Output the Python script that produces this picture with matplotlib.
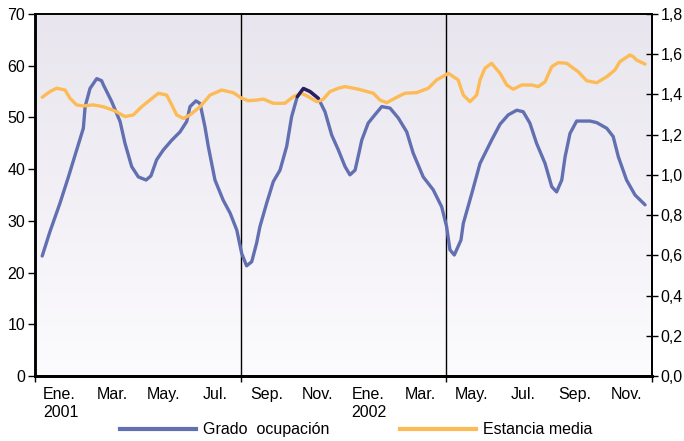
import numpy as np
import matplotlib
matplotlib.use("Agg")
import matplotlib.pyplot as plt
from matplotlib.colors import LinearSegmentedColormap
from matplotlib.lines import Line2D

plt.rcParams['font.family'] = ['Liberation Sans', 'DejaVu Sans']

# ---- data (x in months since start of Jan 2001) ----
ocup_x = [0.28, 0.58, 0.97, 1.30, 1.62, 1.88, 1.95, 2.14, 2.40, 2.59, 2.66, 2.98, 3.31,
          3.50, 3.76, 4.02, 4.32, 4.51, 4.73, 4.99, 5.32, 5.64, 5.90, 6.03, 6.26, 6.42,
          6.61, 6.74, 7.00, 7.32, 7.59, 7.85, 8.04, 8.23, 8.43, 8.62, 8.75, 9.01, 9.27,
          9.53, 9.79, 9.98, 10.20, 10.44, 10.70, 11.02, 11.28, 11.54, 11.80, 12.06, 12.25,
          12.45, 12.60, 12.71, 12.96, 13.22, 13.49, 13.81, 14.13, 14.46, 14.71, 15.10,
          15.49, 15.82, 16.01, 16.14, 16.31, 16.57, 16.66, 16.99, 17.31, 17.76, 18.09,
          18.41, 18.74, 18.99, 19.25, 19.51, 19.84, 20.10, 20.29, 20.49, 20.62, 20.81,
          21.07, 21.59, 21.85, 22.24, 22.49, 22.69, 23.01, 23.34, 23.73]
ocup_y = [23.2, 27.9, 33.4, 38.5, 43.7, 47.9, 52.1, 55.6, 57.5, 57.1, 56.3, 53.1, 49.2,
          45.0, 40.5, 38.5, 37.9, 38.7, 41.8, 43.7, 45.6, 47.2, 49.2, 52.1, 53.2, 52.7,
          48.2, 44.4, 37.9, 34.0, 31.5, 28.2, 23.7, 21.3, 22.1, 25.7, 28.9, 33.4, 37.6,
          39.8, 44.4, 50.1, 54.0, 55.6, 55.0, 53.7, 51.1, 46.6, 43.7, 40.5, 38.9,
          39.8, 43.1, 45.6, 48.9, 50.5, 52.1, 51.8, 49.9, 47.2, 43.1, 38.5,
          36.0, 32.7, 28.9, 24.4, 23.4, 26.3, 29.5, 35.3, 41.1, 45.6, 48.7,
          50.5, 51.4, 51.1, 48.9, 45.0, 41.1, 36.6, 35.6, 37.9, 42.4, 46.9,
          49.3, 49.3, 49.0, 47.9, 46.3, 42.4, 37.9, 35.0, 33.1]

est_x = [0.28, 0.58, 0.84, 1.17, 1.36, 1.62, 1.88, 2.27, 2.66, 3.11, 3.50, 3.82, 4.15,
         4.47, 4.80, 5.12, 5.32, 5.51, 5.77, 6.03, 6.42, 6.81, 7.26, 7.71, 8.04, 8.30,
         8.62, 8.88, 9.27, 9.72, 10.05, 10.37, 10.63, 10.96, 11.21, 11.47, 11.80, 12.06,
         12.58, 13.16, 13.42, 13.68, 14.00, 14.39, 14.85, 15.30, 15.62, 16.08, 16.46,
         16.66, 16.92, 17.18, 17.31, 17.50, 17.76, 18.09, 18.35, 18.60, 18.93, 19.32,
         19.58, 19.84, 20.10, 20.35, 20.68, 21.13, 21.46, 21.85, 22.24, 22.56, 22.75,
         23.14, 23.27, 23.40, 23.73]
est_y = [1.386, 1.414, 1.431, 1.422, 1.381, 1.348, 1.343, 1.348, 1.339, 1.318, 1.290,
         1.298, 1.339, 1.372, 1.406, 1.397, 1.348, 1.298, 1.281, 1.298, 1.339, 1.397,
         1.422, 1.409, 1.381, 1.369, 1.372, 1.377, 1.356, 1.356, 1.389, 1.406, 1.389,
         1.364, 1.376, 1.414, 1.431, 1.439, 1.426, 1.406, 1.372, 1.359, 1.381, 1.406,
         1.409, 1.431, 1.472, 1.505, 1.472, 1.397, 1.364, 1.397, 1.472, 1.530, 1.555,
         1.505, 1.447, 1.426, 1.447, 1.447, 1.439, 1.463, 1.538, 1.558, 1.555, 1.513,
         1.468, 1.458, 1.488, 1.522, 1.563, 1.596, 1.588, 1.571, 1.551]

month_labels = ['Ene.\n2001', 'Mar.', 'May.', 'Jul.', 'Sep.', 'Nov.',
                'Ene.\n2002', 'Mar.', 'May.', 'Jul.', 'Sep.', 'Nov.']
label_pos = [1, 3, 5, 7, 9, 11, 13, 15, 17, 19, 21, 23]
period_bounds = [0, 8, 16, 24]
left_ticks = [0, 10, 20, 30, 40, 50, 60, 70]
right_ticks = [0.0, 0.2, 0.4, 0.6, 0.8, 1.0, 1.2, 1.4, 1.6, 1.8]
highlight_range = (10.15, 11.02)

BLUE = '#6270B2'
DARK = '#2B1E5C'
ORANGE = '#FDBB55'
FS = 11.5

fig = plt.figure(figsize=(6.84, 4.41), dpi=100)
ax = fig.add_axes([35/684, 1-376/441, (652-35)/684, (376-14)/441])
ax2 = ax.twinx()

# gradient background
cmap = LinearSegmentedColormap.from_list('bg', ['#FCFBFD', '#E8E5EE'])
grad = np.linspace(0, 1, 256).reshape(-1, 1)
ax.imshow(grad, extent=[0, 1, 0, 1], transform=ax.transAxes, origin='lower',
          cmap=cmap, aspect='auto', zorder=0)

ax.set_xlim(0, 24)
ax.set_ylim(0, 70)
ax2.set_ylim(0, 1.8)

for b in period_bounds[1:-1]:
    ax.axvline(b, color='black', lw=1.0, zorder=1)

ax.plot(ocup_x, ocup_y, color=BLUE, lw=2.4, zorder=3, solid_joinstyle='round',
        solid_capstyle='round')
ax2.plot(est_x, est_y, color=ORANGE, lw=2.4, zorder=3, solid_joinstyle='round',
         solid_capstyle='round')
hx = np.array(ocup_x); hy = np.array(ocup_y)
m = (hx >= highlight_range[0]) & (hx <= highlight_range[1])
ax2.plot(hx[m], hy[m], color=DARK, lw=2.4, zorder=4, transform=ax.transData,
         solid_joinstyle='round', solid_capstyle='round')

# ticks
ax.set_xticks(period_bounds)
ax.set_xticklabels([])
ax.set_xticks(label_pos, minor=True)
ax.set_xticklabels(month_labels, minor=True, fontsize=FS, ha='center', va='top')
ax.tick_params(axis='x', which='minor', length=0, pad=8)
ax.tick_params(axis='x', which='major', length=4, width=1, direction='out')
for lbl in ax.get_xticklabels(minor=True):
    lbl.set_multialignment('left')

ax.set_yticks(left_ticks)
ax.set_yticklabels([str(t) for t in left_ticks], fontsize=FS)
ax.tick_params(axis='y', length=5, width=1, direction='out', pad=2)

ax2.set_yticks(right_ticks)
ax2.set_yticklabels([f'{t:.1f}'.replace('.', ',') for t in right_ticks], fontsize=FS)
ax2.tick_params(axis='y', length=8, width=1, direction='inout', pad=2)

for a in (ax, ax2):
    a.spines['left'].set_linewidth(1.8)
    a.spines['bottom'].set_linewidth(2.0)
    a.spines['top'].set_linewidth(1.2)
    a.spines['right'].set_linewidth(1.3)

# legend
handles = [Line2D([], [], color=BLUE, lw=3), Line2D([], [], color=ORANGE, lw=3)]
fig.legend(handles, ['Grado  ocupación', 'Estancia media'], loc='center',
           bbox_to_anchor=(0.521, 0.025), ncol=2, frameon=False, fontsize=FS,
           handlelength=4.75, handletextpad=0.45, columnspacing=4.4)

fig.savefig('out.png', dpi=100)
